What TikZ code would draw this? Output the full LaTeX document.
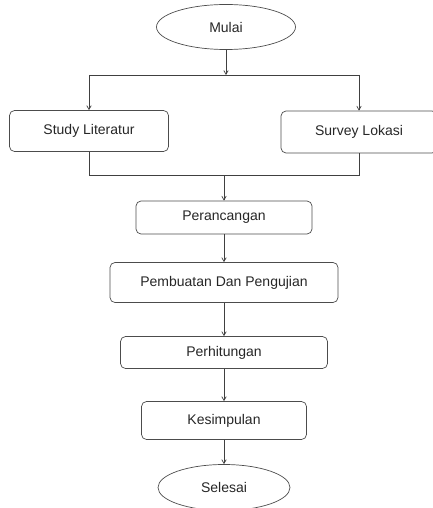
\documentclass[tikz,border=0pt]{standalone}
\usepackage{fontspec}
\setmainfont{Liberation Sans}
\usepackage{tikz}
\usetikzlibrary{shapes.geometric, arrows}
\tikzstyle{terminal} = [ellipse, minimum width=139pt, minimum height=45pt, inner sep=0pt, text centered, draw=black!70, line width=0.7pt, text=black!85, font=\fontsize{14}{16}\selectfont]
\tikzstyle{process} = [rectangle, rounded corners=5pt, minimum height=40pt, text centered, draw=black!70, line width=0.7pt, text=black!85, font=\fontsize{14}{16}\selectfont]
\tikzstyle{arrow} = [line width=0.7pt, draw=black!75, ->, >=angle 60]
\tikzstyle{line} = [line width=0.7pt, draw=black!75]

\begin{document}
\begin{tikzpicture}[node distance=65pt]
    \useasboundingbox (0pt,0pt) rectangle (432pt,-508pt);

    % Nodes
    \node (mulai) [terminal] at (226pt,-27pt) {Mulai};
    \node (study) [process, minimum width=159pt, minimum height=41pt] at (89pt,-131pt) {Study Literatur};
    \node (survey) [process, minimum width=156pt, minimum height=42pt] at (359pt,-132pt) {Survey Lokasi};
    \node (perancangan) [process, minimum width=176pt, minimum height=33pt] at (224pt,-217.5pt) {Perancangan};
    \node (pembuatan) [process, below of=perancangan, minimum width=228pt] {Pembuatan Dan Pengujian};
    \node (perhitungan) [process, below of=pembuatan, yshift=-5pt, minimum width=207pt, minimum height=32pt] {Perhitungan};
    \node (kesimpulan) [process, below of=perhitungan, yshift=-3pt, minimum width=165pt, minimum height=38pt] {Kesimpulan};
    \node (selesai) [terminal, below of=kesimpulan, yshift=-2pt, minimum width=132pt, minimum height=46pt] {Selesai};

    \coordinate (split) at (226pt,-75pt);
    \coordinate (merge) at (224pt,-175pt);

    % Arrows
    \draw [arrow] (mulai) -- (split);
    \draw [line] (study |- split) -- (survey |- split);
    \draw [arrow] (study |- split) -- (study);
    \draw [arrow] (survey |- split) -- (survey);

    \draw [line] (study) -- (study |- merge) -- (survey |- merge) -- (survey);
    \draw [arrow] (merge) -- (perancangan);
    \draw [arrow] (perancangan) -- (pembuatan);
    \draw [arrow] (pembuatan) -- (perhitungan);
    \draw [arrow] (perhitungan) -- (kesimpulan);
    \draw [arrow] (kesimpulan) -- (selesai);

\end{tikzpicture}
\end{document}
